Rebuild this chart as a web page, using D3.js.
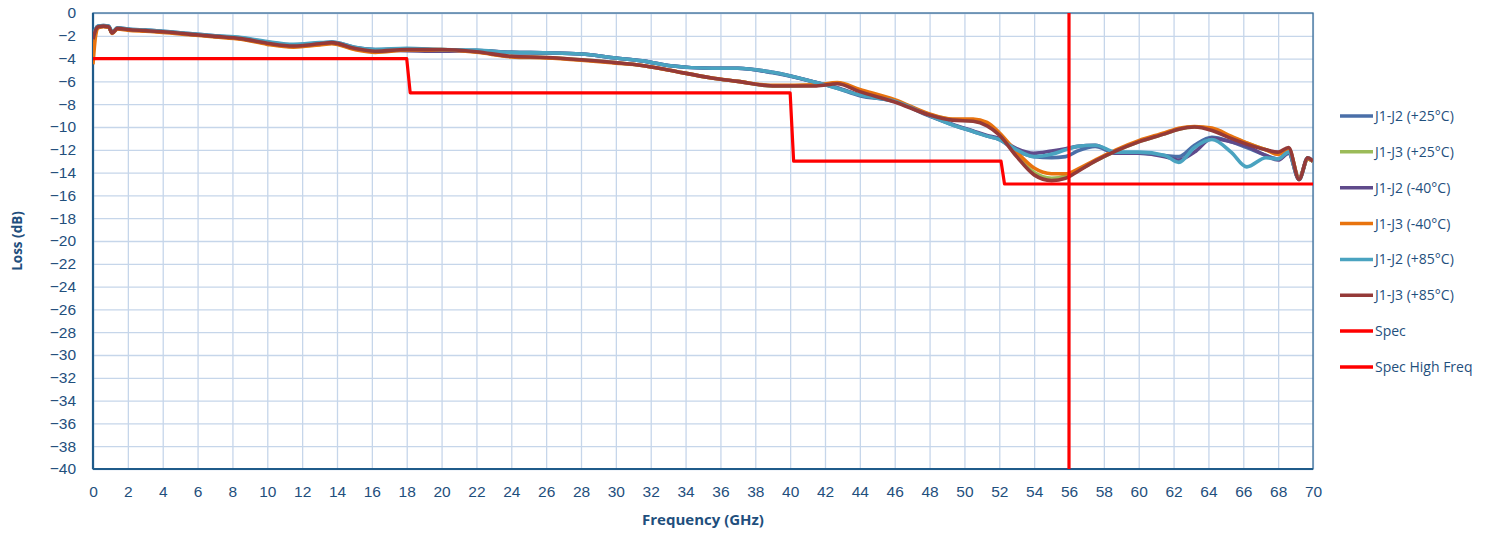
<!DOCTYPE html>
<html>
<head>
<meta charset="utf-8">
<script src="https://cdn.jsdelivr.net/npm/d3@7"></script>
<style>
  body { margin: 0; background: #fff; }
  svg { display: block; font-family: "Open Sans", "Liberation Sans", sans-serif; }
</style>
</head>
<body>
<svg id="chart" width="1492" height="535"></svg>
<script>
// frequency points (GHz) shared by the measured traces
const freq = [0, 0.15, 0.3, 0.6, 0.9, 1.1, 1.4, 2, 3, 4, 5.5, 7, 8.5, 10, 11.5, 13, 13.7, 15, 16.2, 18,
  20, 22, 24, 26, 28, 30, 31.5, 33, 35.5, 37, 39, 41.5, 42.7, 44, 46, 48, 49.3, 50.5, 51.3, 52,
  53, 54, 55, 55.8, 56.5, 57.5, 58.7, 60, 61.5, 62.3, 63.2, 64.2, 65.3, 66.2, 67.3, 68, 68.6, 69.2, 69.7, 70];

const j12p25 = [-2.25, -1.45, -1.15, -1.1, -1.15, -1.7, -1.3, -1.4, -1.5, -1.6, -1.8, -2.0, -2.2, -2.55, -2.8, -2.65, -2.55, -3.0, -3.2, -3.15,
  -3.25, -3.3, -3.45, -3.5, -3.6, -3.95, -4.2, -4.6, -4.85, -4.85, -5.25, -6.1, -6.6, -7.25, -7.75, -9.05, -9.8, -10.4, -10.8, -11.1,
  -12.1, -12.6, -12.7, -12.6, -12.1, -11.7, -12.3, -12.3, -12.5, -12.6, -11.6, -10.9, -11.3, -11.8, -12.5, -12.8, -12.3, -14.6, -12.8, -13.0];
const j13p25 = [-2.4, -1.6, -1.25, -1.15, -1.2, -1.75, -1.35, -1.45, -1.55, -1.65, -1.85, -2.05, -2.25, -2.7, -2.95, -2.75, -2.65, -3.15, -3.4, -3.2,
  -3.2, -3.4, -3.8, -3.9, -4.1, -4.35, -4.6, -5.0, -5.7, -6.0, -6.4, -6.35, -6.15, -6.8, -7.7, -8.9, -9.35, -9.45, -9.8, -10.6,
  -12.5, -14.0, -14.5, -14.3, -13.8, -13.0, -12.1, -11.3, -10.6, -10.2, -10.0, -10.2, -10.9, -11.4, -12.0, -12.3, -11.9, -14.5, -12.8, -13.0];
const j12m40 = [-2.3, -1.5, -1.2, -1.15, -1.2, -1.75, -1.35, -1.45, -1.55, -1.65, -1.85, -2.05, -2.25, -2.6, -2.85, -2.7, -2.6, -3.05, -3.25, -3.3,
  -3.35, -3.3, -3.45, -3.5, -3.6, -3.95, -4.2, -4.6, -4.85, -4.85, -5.2, -6.1, -6.55, -7.2, -7.7, -9.0, -9.75, -10.35, -10.75, -11.0,
  -11.9, -12.3, -12.1, -11.9, -11.7, -11.6, -12.3, -12.3, -12.6, -12.9, -12.2, -11.0, -11.3, -11.7, -12.5, -12.9, -12.3, -14.6, -12.7, -13.0];
const j13m40 = [-4.5, -2.0, -1.3, -1.2, -1.25, -1.8, -1.4, -1.5, -1.6, -1.7, -1.9, -2.1, -2.3, -2.75, -3.0, -2.8, -2.7, -3.2, -3.45, -3.25,
  -3.25, -3.45, -3.85, -3.95, -4.15, -4.4, -4.6, -5.0, -5.7, -6.0, -6.35, -6.3, -6.1, -6.7, -7.6, -8.85, -9.3, -9.3, -9.6, -10.5,
  -12.2, -13.6, -14.1, -14.1, -13.7, -12.9, -12.0, -11.2, -10.5, -10.1, -9.95, -10.1, -10.8, -11.4, -12.0, -12.4, -11.9, -14.5, -12.8, -13.0];
const j12p85 = [-2.2, -1.4, -1.15, -1.1, -1.15, -1.7, -1.3, -1.4, -1.5, -1.6, -1.8, -2.0, -2.15, -2.5, -2.75, -2.6, -2.55, -3.0, -3.2, -3.1,
  -3.2, -3.25, -3.45, -3.5, -3.6, -3.95, -4.2, -4.6, -4.85, -4.85, -5.2, -6.1, -6.6, -7.2, -7.75, -9.0, -9.8, -10.4, -10.8, -11.1,
  -12.0, -12.6, -12.4, -12.0, -11.7, -11.6, -12.2, -12.2, -12.5, -13.1, -11.8, -11.1, -12.2, -13.5, -12.7, -12.8, -12.2, -14.6, -12.7, -13.0];
const j13p85 = [-2.3, -1.5, -1.2, -1.15, -1.2, -1.75, -1.35, -1.45, -1.55, -1.65, -1.85, -2.05, -2.25, -2.65, -2.9, -2.7, -2.6, -3.1, -3.35, -3.2,
  -3.2, -3.4, -3.8, -3.9, -4.1, -4.35, -4.6, -5.0, -5.7, -6.0, -6.4, -6.4, -6.2, -6.9, -7.8, -8.95, -9.4, -9.5, -9.9, -10.7,
  -12.6, -14.2, -14.7, -14.5, -13.9, -13.0, -12.1, -11.3, -10.6, -10.2, -10.0, -10.3, -11.0, -11.5, -12.0, -12.2, -11.8, -14.6, -12.7, -13.0];

const specFreq = [0, 18, 18.2, 40, 40.2, 52.1, 52.3, 70];
const specLoss = [-4, -4, -7, -7, -13, -13, -15, -15];
const hfFreq = [56, 56];
const hfLoss = [0, -40];

const seriesNames = ['J1-J2 (+25°C)', 'J1-J3 (+25°C)', 'J1-J2 (-40°C)', 'J1-J3 (-40°C)', 'J1-J2 (+85°C)', 'J1-J3 (+85°C)', 'Spec', 'Spec High Freq'];
const seriesColors = ['#4a6fa8', '#9bbb59', '#5f4a8b', '#e8730e', '#4aa3c0', '#953a38', '#ff0000', '#ff0000'];

const xTicks = d3.range(0, 71, 2);
const yTicks = d3.range(0, -41, -2);

const series = [
  {x: freq, y: j12p25}, {x: freq, y: j13p25}, {x: freq, y: j12m40},
  {x: freq, y: j13m40}, {x: freq, y: j12p85}, {x: freq, y: j13p85},
  {x: specFreq, y: specLoss}, {x: hfFreq, y: hfLoss}
].map((s, i) => ({name: seriesNames[i], color: seriesColors[i],
  pts: s.x.map((f, k) => [f, s.y[k]])}));

const pLeft = 93, pRight = 1313, pTop = 13, pBottom = 469;
const axisColor = '#1f5b8a';
const textColor = '#1f4f7d';

const x = d3.scaleLinear().domain([0, 70]).range([pLeft, pRight]);
const y = d3.scaleLinear().domain([-40, 0]).range([pBottom, pTop]);

const svg = d3.select('#chart');

svg.append('defs').append('clipPath').attr('id', 'plot')
  .append('rect').attr('x', pLeft).attr('y', pTop - 2).attr('width', pRight - pLeft).attr('height', pBottom - pTop + 2);

// grid
svg.append('g')
  .attr('transform', `translate(0,${pBottom})`)
  .call(d3.axisBottom(x).tickValues(xTicks).tickSize(-(pBottom - pTop)).tickFormat(''))
  .call(g => g.select('.domain').remove())
  .call(g => g.selectAll('line').attr('stroke', '#c6d6ea').attr('stroke-width', 1.3));
svg.append('g')
  .attr('transform', `translate(${pLeft},0)`)
  .call(d3.axisLeft(y).tickValues(yTicks).tickSize(-(pRight - pLeft)).tickFormat(''))
  .call(g => g.select('.domain').remove())
  .call(g => g.selectAll('line').attr('stroke', '#c6d6ea').attr('stroke-width', 1.3));

// border
svg.append('rect')
  .attr('x', pLeft).attr('y', pTop).attr('width', pRight - pLeft).attr('height', pBottom - pTop)
  .attr('fill', 'none').attr('stroke', '#3d6f9a').attr('stroke-width', 1.3);

// tick labels
svg.append('g')
  .attr('transform', `translate(0,${pBottom})`)
  .call(d3.axisBottom(x).tickValues(xTicks).tickSize(0).tickPadding(17).tickFormat(d3.format('d')))
  .call(g => g.select('.domain').remove())
  .call(g => g.selectAll('text').attr('fill', textColor).attr('font-size', 15.5));
svg.append('g')
  .attr('transform', `translate(${pLeft},0)`)
  .call(d3.axisLeft(y).tickValues(yTicks).tickSize(0).tickPadding(17).tickFormat(d => d === 0 ? '0' : d3.format('d')(d)))
  .call(g => g.select('.domain').remove())
  .call(g => g.selectAll('text').attr('fill', textColor).attr('font-size', 15.5));

// axis lines
svg.append('line').attr('x1', pLeft).attr('x2', pLeft).attr('y1', pTop).attr('y2', pBottom)
  .attr('stroke', axisColor).attr('stroke-width', 2.2);
svg.append('line').attr('x1', pLeft).attr('x2', pRight).attr('y1', pBottom).attr('y2', pBottom)
  .attr('stroke', axisColor).attr('stroke-width', 2.2);

const smooth = d3.line().x(d => x(d[0])).y(d => y(d[1])).curve(d3.curveMonotoneX);
const straight = d3.line().x(d => x(d[0])).y(d => y(d[1]));

svg.append('g').attr('clip-path', 'url(#plot)')
  .selectAll('path')
  .data(series)
  .enter()
  .append('path')
  .attr('d', (d, i) => i < 6 ? smooth(d.pts) : straight(d.pts))
  .attr('fill', 'none')
  .attr('stroke', d => d.color)
  .attr('stroke-width', (d, i) => i < 6 ? 3.6 : 3.2)
  .attr('stroke-linejoin', 'round');

// legend
svg.append('g')
  .selectAll('g.row')
  .data(series)
  .enter()
  .append('g')
  .classed('row', true)
  .attr('transform', (_, i) => `translate(1340,${116 + 35.85 * i})`)
  .call((selection) => {
    selection.append('line')
      .attr('x1', 0).attr('x2', 33)
      .attr('stroke', d => d.color)
      .attr('stroke-width', 3.5);
    selection.append('text')
      .attr('x', 35).attr('dy', 5)
      .attr('fill', textColor)
      .attr('font-size', 14)
      .text(d => d.name);
  });

// axis titles
svg.append('text')
  .attr('x', x(35)).attr('y', 525)
  .attr('text-anchor', 'middle')
  .attr('font-weight', 'bold').attr('font-size', 15)
  .attr('fill', textColor)
  .text('Frequency (GHz)');
svg.append('text')
  .attr('transform', `translate(22,${(pTop + pBottom) / 2}) rotate(-90)`)
  .attr('text-anchor', 'middle')
  .attr('font-weight', 'bold').attr('font-size', 13.5)
  .attr('fill', textColor)
  .text('Loss (dB)');
</script>
</body>
</html>
